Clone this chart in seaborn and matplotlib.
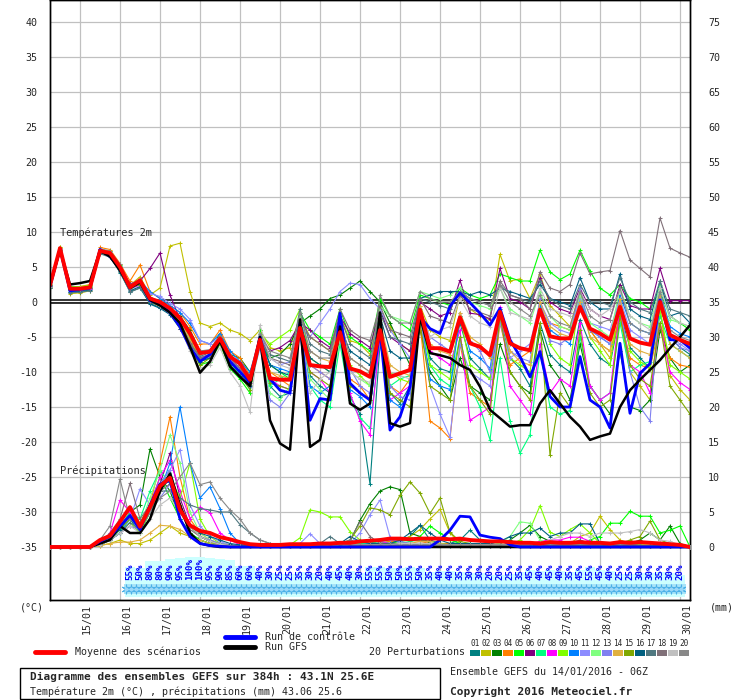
import matplotlib
matplotlib.use('Agg')
import matplotlib.pyplot as plt
import matplotlib.transforms as mtransforms
from matplotlib.lines import Line2D
from matplotlib.patches import Rectangle
import numpy as np
import pandas as pd
import seaborn as sns

sns.set_style('white')
plt.rcParams['font.family'] = ['DejaVu Sans Mono', 'DejaVu Sans']

# 6-hourly steps from 14/01 06Z to 30/01 06Z
steps = list(range(65))
day_steps = [3, 7, 11, 15, 19, 23, 27, 31, 35, 39, 43, 47, 51, 55, 59, 63]
day_labels = ['15/01', '16/01', '17/01', '18/01', '19/01', '20/01', '21/01', '22/01',
              '23/01', '24/01', '25/01', '26/01', '27/01', '28/01', '29/01', '30/01']

# probability of precipitation (%), steps 8..63
pct_steps = list(range(8, 64))
pct_values = [55, 50, 80, 80, 90, 95, 100, 100, 95, 90, 85, 60, 60, 40, 30, 25, 25, 35, 30, 20,
              40, 45, 40, 30, 55, 55, 50, 50, 55, 50, 35, 40, 40, 35, 30, 30, 20, 20, 25, 35,
              45, 40, 45, 40, 35, 45, 55, 45, 40, 25, 25, 30, 30, 35, 30, 20]

# temperature 2m (°C)
temp_mean = [2.4, 7.7, 1.9, 1.9, 2.1, 7.3, 7.0, 5.0, 2.1,
             3.1, 0.5, 0.0, -0.9, -2.3, -4.5, -7.3, -7.1, -5.2, -7.8, -8.8, -11.1,
             -5.4, -10.9, -11.1, -11.1, -3.7, -9.0, -9.2, -9.3, -4.3, -9.5, -9.9, -10.7, -4.0, -10.7, -10.2, -9.7, -1.1, -6.6, -6.6, -7.1,
             -2.2, -5.9, -6.4, -7.6, -1.4, -5.9, -6.6, -6.9, -1.1, -4.9, -5.2, -5.2, -0.7, -3.8, -4.5, -5.4, -0.7, -5.2, -5.8, -6.1, 0.0, -4.7, -5.4, -6.0]
temp_control = [2.2, 7.6, 1.6, 1.8, 2.0, 7.5, 6.5, 4.8, 2.0,
                3.0, 0.2, -0.3, -1.5, -3.5, -6.5, -8.5, -7.5, -5.5, -8.5, -10.0, -11.5,
                -5.0, -11.0, -12.6, -13.0, -3.0, -16.9, -13.8, -14.0, -1.6, -11.6, -13.0, -14.0, -4.0, -18.3, -16.4, -12.1, -2.1, -3.8, -4.5, -0.6,
                1.3, -0.1, -1.6, -3.3, -0.9, -5.4, -7.8, -10.7, -7.1, -13.5, -15.0, -15.0, -7.8, -14.0, -15.0, -18.0, -5.9, -15.9, -10.2, -8.8, 0.3, -5.4, -5.4, -6.6]
temp_gfs = [2.4, 7.5, 2.5, 2.7, 3.0, 7.3, 6.5, 4.5, 2.0,
            2.8, 0.3, -0.5, -1.5, -3.0, -6.4, -10.1, -8.5, -5.5, -9.2, -10.7, -12.0,
            -5.0, -16.9, -20.2, -21.1, -2.5, -20.7, -19.7, -12.6, -3.5, -14.5, -15.4, -14.5, -1.5, -17.3, -17.8, -17.3, -2.1, -7.3, -7.6, -8.0,
            -9.0, -9.7, -12.1, -15.4, -16.6, -17.8, -17.6, -17.6, -14.5, -12.6, -14.5, -16.4, -17.8, -19.7, -19.2, -18.8, -15.0, -12.6, -11.1, -9.7, -8.3, -6.6, -5.0, -3.3]

temp_m01 = [2.2, 7.4, 1.5, 1.6, 1.8, 7.2, 6.6, 4.2, 1.5,
            2.0, -0.2, -0.8, -1.5, -3.0, -5.5, -8.0, -7.5, -5.0, -8.5, -10.0, -12.0,
            -5.5, -12.0, -13.5, -13.0, -3.5, -10.5, -12.0, -13.0, -5.0, -13.5, -16.0, -26.0, -6.0, -13.0, -14.5, -12.0, -1.5, -8.0, -9.5, -10.0,
            -3.0, -8.0, -9.5, -11.0, -2.0, -8.0, -9.5, -12.0, -3.0, -7.5, -9.0, -10.0, -2.5, -6.0, -8.0, -9.0, -1.5, -6.5, -8.0, -9.5, -0.5, -5.0, -6.5, -7.5]
temp_m02 = [2.5, 7.6, 1.2, 1.3, 1.6, 7.0, 6.8, 5.0, 2.4,
            3.6, 1.0, 2.0, 8.0, 8.4, 1.5, -3.0, -3.5, -3.0, -4.0, -4.5, -5.5,
            -4.0, -6.5, -7.0, -6.5, -2.0, -5.0, -6.0, -7.0, -2.0, -5.5, -6.0, -7.5, -1.5, -3.5, -6.0, -7.0, -0.5, -4.0, -5.0, -5.5,
            1.0, -1.0, -2.0, -2.5, 6.8, 3.0, 3.3, 0.5, 4.0, -0.5, -2.0, -3.5, 1.5, -4.0, -6.0, -8.0, -2.0, -10.0, -12.0, -14.0, -1.0, -10.5, -12.5, -14.0]
temp_m03 = [2.0, 7.2, 1.8, 2.0, 2.2, 7.5, 7.2, 5.2, 2.0,
            2.5, 0.0, -0.5, -1.0, -2.0, -4.0, -7.0, -7.0, -4.5, -7.5, -8.0, -10.0,
            -6.0, -8.0, -7.5, -6.0, -3.0, -2.0, -1.0, 0.5, 1.0, 2.0, 3.0, 1.5, 0.0, -3.0, -6.0, -9.0, -4.0, -10.0, -12.0, -14.0,
            -8.0, -12.0, -13.0, -14.0, -6.0, -10.0, -12.0, -13.0, -4.0, -9.0, -11.0, -14.0, -6.0, -12.0, -14.0, -16.0, -7.0, -15.0, -15.5, -14.0, -4.0, -8.0, -10.0, -9.0]
temp_m04 = [2.6, 7.8, 2.0, 2.2, 2.5, 7.8, 7.5, 5.5, 3.0,
            5.3, 1.5, 0.5, -0.5, -1.5, -3.5, -6.0, -6.0, -4.0, -7.0, -8.0, -10.5,
            -5.0, -10.0, -11.0, -12.0, -4.0, -9.0, -10.0, -11.0, -4.5, -11.0, -12.0, -14.0, -3.0, -12.0, -13.0, -11.0, -3.0, -17.0, -18.0, -19.5,
            -6.0, -13.0, -14.0, -15.0, -3.0, -9.0, -8.0, -7.0, -1.5, -3.0, -3.5, -4.0, 0.0, -4.0, -6.0, -7.0, -2.0, -8.0, -9.0, -9.5, -3.0, -8.0, -9.0, -9.3]
temp_m05 = [2.3, 7.5, 2.2, 2.1, 2.3, 7.4, 7.3, 5.3, 2.0,
            2.8, 0.5, -0.3, -1.2, -3.0, -6.0, -9.0, -8.5, -6.0, -9.5, -11.0, -13.0,
            -4.0, -9.0, -10.0, -11.0, -1.5, -4.0, -5.0, -6.0, -1.0, -5.0, -6.0, -7.0, 0.5, -2.0, -3.0, -4.0, 1.0, 0.5, 0.0, -0.5,
            2.0, 1.0, 0.5, 1.0, 4.0, 3.5, 3.0, 3.0, 7.4, 4.3, 3.2, 4.0, 7.4, 4.4, 2.0, 1.0, 2.5, 0.5, 0.0, -1.0, 1.5, -2.0, -3.0, -4.0]
temp_m06 = [2.4, 7.7, 1.9, 2.0, 2.2, 7.6, 7.0, 5.0, 2.6,
            3.0, 4.8, 7.0, 1.0, -2.5, -5.0, -7.5, -7.0, -5.0, -8.0, -9.0, -11.0,
            -5.0, -7.0, -6.5, -5.5, -3.0, -4.0, -5.5, -6.5, -2.0, -4.5, -5.5, -6.5, -1.0, -5.0, -6.0, -7.0, 0.0, -1.0, -2.0, -1.5,
            3.1, -1.6, -1.8, -2.4, 4.8, 0.5, 0.0, -1.0, 3.5, 0.0, -1.0, -1.5, 2.0, -1.0, -2.0, -2.5, 2.5, -0.5, -1.0, -1.0, 4.8, 0.2, 0.2, 0.2]
temp_m07 = [2.2, 7.5, 1.7, 1.8, 2.0, 7.2, 6.9, 4.8, 1.8,
            2.6, 0.2, -0.4, -1.4, -3.5, -6.5, -8.5, -8.0, -6.0, -8.5, -10.5, -12.5,
            -6.0, -12.0, -11.0, -10.0, -4.0, -12.0, -14.0, -15.0, -6.0, -14.0, -16.5, -18.0, -5.5, -12.0, -11.0, -10.5, -2.0, -9.0, -11.0, -12.0,
            -5.0, -12.0, -15.0, -19.7, -8.0, -17.0, -21.6, -19.0, -7.0, -15.0, -16.0, -15.5, -5.0, -12.0, -14.0, -13.0, -3.0, -10.0, -9.0, -8.5, -2.0, -6.0, -7.0, -8.0]
temp_m08 = [2.1, 7.6, 1.8, 1.7, 1.9, 7.3, 7.0, 4.9, 1.9,
            2.4, 0.1, -0.6, -1.6, -3.8, -6.6, -8.0, -7.5, -5.5, -8.0, -9.5, -11.5,
            -6.0, -11.0, -12.0, -12.5, -4.0, -10.0, -11.0, -13.0, -5.0, -13.0, -17.0, -19.0, -5.0, -14.0, -13.0, -12.0, -2.0, -7.0, -8.0, -9.0,
            -4.0, -16.9, -16.0, -15.0, -0.7, -12.0, -14.0, -16.0, -6.0, -13.0, -11.0, -12.0, -3.0, -12.0, -14.0, -13.0, -1.0, -9.0, -10.0, -13.0, -3.0, -10.0, -11.5, -12.5]
temp_m09 = [2.5, 7.8, 2.1, 2.2, 2.4, 7.5, 7.1, 5.1, 2.2,
            3.2, 0.6, 0.0, -0.8, -2.5, -5.0, -8.5, -8.0, -5.5, -8.5, -9.5, -12.0,
            -4.5, -6.0, -5.0, -4.0, -1.0, -8.0, -9.0, -10.0, -3.0, -9.0, -10.5, -12.0, -3.0, -10.0, -11.0, -11.5, -1.0, -9.0, -10.0, -11.0,
            -2.0, -9.0, -10.0, -11.0, -1.0, -8.0, -9.0, -10.0, 0.0, -6.0, -8.0, -9.0, 1.0, -5.0, -7.0, -9.0, 1.0, -7.0, -8.5, -9.5, -1.0, -9.0, -10.0, -11.0]
temp_m10 = [2.3, 7.6, 2.0, 1.9, 2.1, 7.3, 7.0, 5.0, 2.1,
            3.0, 1.5, 0.5, -0.5, -1.5, -3.0, -5.5, -6.0, -4.5, -7.0, -8.5, -10.0,
            -5.0, -9.0, -9.5, -10.0, -3.0, -12.0, -13.0, -12.0, -4.0, -12.5, -13.5, -15.0, -4.0, -14.0, -15.0, -13.0, -1.5, -11.0, -12.0, -12.5,
            -2.0, -7.0, -8.0, -9.5, -1.0, -6.0, -6.5, -7.0, -0.5, -4.0, -5.0, -6.0, 0.5, -4.0, -5.0, -6.0, 1.0, -3.0, -4.0, -4.5, 1.5, -3.5, -4.5, -5.0]
temp_m11 = [2.4, 7.4, 1.6, 1.7, 2.0, 7.0, 6.8, 4.6, 1.8,
            2.6, 1.2, 0.8, -0.2, -1.0, -2.5, -5.5, -6.0, -5.0, -8.0, -9.0, -11.5,
            -4.5, -8.0, -9.0, -8.5, -3.5, -5.0, -3.0, -1.0, 1.5, 2.7, 2.5, 0.5, -1.0, -4.0, -6.0, -8.0, -2.0, -12.0, -16.0, -19.3,
            -6.0, -10.0, -11.0, -12.0, -3.0, -8.0, -7.0, -6.0, 0.0, -3.0, -4.0, -4.5, 0.5, -3.0, -3.5, -4.0, 0.5, -4.0, -5.0, -6.0, 1.0, -5.0, -6.0, -7.0]
temp_m12 = [2.6, 7.5, 2.1, 2.0, 2.1, 7.2, 6.9, 4.9, 2.0,
            2.9, 0.3, -0.2, -1.0, -2.8, -5.8, -8.2, -7.6, -5.6, -8.8, -10.0, -12.0,
            -6.0, -13.0, -14.0, -12.0, -2.0, -11.0, -12.5, -14.0, -5.0, -10.0, -11.0, -12.0, -0.5, -2.0, -2.5, -3.0, 1.5, 1.0, 0.5, 1.0,
            2.0, 0.0, -0.5, -1.0, 2.0, -1.0, -2.0, -3.0, 1.5, -2.0, -3.5, -4.0, 1.0, -3.0, -4.0, -5.0, 2.0, -2.0, -3.0, -3.5, 2.5, -2.5, -3.0, -3.5]
temp_m13 = [2.3, 7.6, 1.8, 1.9, 2.0, 7.4, 7.1, 5.2, 2.2,
            2.7, 0.4, -0.2, -1.1, -3.2, -6.0, -8.0, -7.8, -5.3, -8.2, -9.5, -12.2,
            -6.5, -14.0, -15.0, -13.0, -4.5, -9.0, -10.0, -11.0, -3.0, -9.5, -12.0, -13.0, -3.5, -12.0, -13.5, -14.0, -1.0, -5.0, -6.0, -7.0,
            -1.5, -5.5, -7.0, -10.0, -2.0, -7.0, -8.0, -8.5, 0.5, -5.5, -6.0, -5.0, 2.0, -4.0, -5.0, -6.0, 0.0, -10.0, -15.0, -17.0, 1.0, -5.0, -6.5, -7.0]
temp_m14 = [2.4, 7.7, 2.0, 2.1, 2.2, 7.2, 6.8, 5.0, 2.1,
            2.8, 0.4, 0.0, -1.0, -2.6, -5.5, -7.5, -7.0, -5.0, -8.0, -9.0, -11.0,
            -5.5, -10.0, -10.5, -11.0, -3.5, -7.0, -8.0, -8.5, -2.5, -8.0, -9.0, -10.0, -2.5, -9.0, -10.0, -10.5, -0.5, -6.0, -7.0, -7.5,
            -1.5, -5.0, -6.0, -8.0, -1.0, -7.0, -8.5, -9.0, 0.0, -3.5, -4.5, -5.0, 0.0, -5.0, -6.0, -7.0, 0.5, -6.0, -7.0, -7.5, 1.0, -6.0, -7.0, -8.0]
temp_m15 = [2.2, 7.5, 1.9, 1.8, 2.0, 7.3, 7.0, 5.0, 2.0,
            2.5, 0.0, -0.6, -1.5, -3.5, -6.5, -9.0, -8.0, -6.0, -9.0, -10.5, -12.5,
            -6.0, -11.5, -12.0, -12.5, -4.0, -10.0, -11.0, -12.0, -4.5, -12.0, -13.0, -14.0, -3.0, -13.0, -14.0, -15.0, -3.0, -12.0, -13.0, -14.0,
            -5.0, -12.0, -14.0, -16.0, -2.0, -10.0, -12.0, -14.0, -3.0, -21.9, -13.0, -15.0, -4.0, -13.0, -15.0, -14.0, -2.0, -9.0, -11.0, -12.0, -3.0, -12.0, -14.0, -16.0]
temp_m16 = [2.5, 7.3, 1.4, 1.5, 1.7, 7.0, 6.6, 4.5, 1.6,
            2.2, -0.3, -0.9, -1.8, -3.8, -6.5, -8.5, -8.0, -5.5, -9.0, -10.5, -12.0,
            -5.0, -9.0, -10.0, -10.5, -2.5, -8.0, -9.0, -10.0, -3.5, -7.0, -8.0, -9.0, -2.0, -7.0, -8.0, -8.0, 0.5, 1.0, 1.5, 1.5,
            1.5, 1.0, 1.5, 1.0, 2.0, 1.5, 1.0, 0.5, 2.5, 0.5, 0.0, -0.5, 3.5, 0.0, -1.0, -1.0, 4.0, -1.0, -2.0, -2.5, 3.0, -2.0, -1.5, -3.0]
temp_m17 = [2.0, 7.2, 1.3, 1.4, 1.6, 6.9, 6.4, 4.3, 1.4,
            2.0, 0.0, -0.5, -1.3, -3.3, -6.0, -7.8, -7.2, -5.2, -8.6, -10.0, -11.8,
            -5.5, -7.5, -8.0, -8.5, -1.0, -6.0, -7.0, -7.5, -2.0, -6.0, -7.0, -8.0, -1.5, -5.0, -5.5, -6.0, 0.5, 0.0, -0.5, -1.0,
            1.5, 0.5, 0.0, -0.5, 2.5, 1.0, 0.5, 0.0, 3.0, 0.5, -0.5, -1.0, 2.5, 0.0, 0.0, -0.5, 3.5, 0.0, -1.0, -1.5, 3.0, -1.0, -1.5, -2.0]
temp_m18 = [2.3, 7.5, 1.7, 1.8, 2.0, 7.3, 6.9, 4.8, 1.9,
            2.6, 0.2, -0.5, -1.3, -3.0, -5.8, -8.0, -7.5, -5.0, -8.0, -9.5, -11.5,
            -5.0, -8.0, -8.5, -9.0, -2.5, -5.0, -6.0, -7.0, -1.0, -4.0, -5.0, -5.5, -0.5, -4.0, -4.5, -5.0, 0.5, -2.0, -2.5, -3.0,
            1.0, -1.0, -1.5, -2.0, 3.0, 1.0, 0.5, -1.0, 4.3, 2.0, 1.5, 2.5, 7.0, 4.0, 4.3, 4.5, 10.2, 6.0, 4.8, 3.6, 12.0, 7.7, 7.0, 6.4]
temp_m19 = [2.2, 7.6, 1.9, 2.0, 2.1, 7.4, 7.2, 5.1, 2.3,
            2.9, 0.3, -0.5, -1.5, -3.6, -7.0, -9.5, -9.0, -6.5, -10.0, -12.0, -15.7,
            -3.3, -8.0, -9.0, -9.5, -3.0, -13.0, -11.0, -10.0, -4.0, -10.0, -11.0, -11.5, -3.0, -10.0, -10.5, -11.0, -1.0, -5.0, -4.0, -3.5,
            0.5, -2.0, -3.0, -3.5, 2.0, -1.5, -2.0, -2.5, 2.0, -1.0, -1.5, -2.0, 1.5, -1.0, -2.0, -1.0, 1.5, -2.0, -3.0, -4.0, 2.0, -2.0, -3.0, -3.5]
temp_m20 = [2.4, 7.5, 1.8, 1.9, 2.1, 7.6, 7.3, 5.4, 2.4,
            3.3, 0.7, 0.1, -0.8, -2.2, -4.5, -7.0, -6.8, -4.8, -7.5, -9.0, -10.5,
            -4.5, -7.0, -7.5, -8.0, -1.5, -7.0, -8.0, -8.0, -2.0, -8.0, -9.0, -10.0, 1.0, -2.0, -3.0, -3.0, 1.5, 0.5, 0.0, 0.0,
            1.5, 0.5, 0.0, -0.5, 2.5, 0.0, -1.0, -2.0, 1.0, -2.0, -3.0, -3.5, 1.5, -2.0, -3.0, -2.5, 2.0, -3.0, -4.0, -4.5, 1.5, -4.0, -5.0, -5.5]

# precipitation (mm per 6h)
rain_mean = [0, 0, 0, 0, 0, 1.0, 1.6, 3.6, 5.7, 2.9, 5.7, 8.7, 9.9, 5.3, 3.1, 2.3, 2.0, 1.4, 1.1, 0.7, 0.4,
             0.3, 0.3, 0.3, 0.4, 0.4, 0.4, 0.5, 0.5, 0.6, 0.6, 0.8, 0.9, 1.0, 1.2, 1.2, 1.1, 1.2, 1.2, 1.2, 1.1, 1.2, 1.0,
             0.9, 0.8, 0.8, 0.7, 0.6, 0.6, 0.5, 0.7, 0.6, 0.6, 0.7, 0.6, 0.6, 0.5, 0.7, 0.6, 0.7, 0.6, 0.5, 0.4, 0.3, 0.0]
rain_control = [0, 0, 0, 0, 0, 0.8, 1.5, 3.0, 4.5, 2.5, 6.0, 9.0, 9.5, 4.0, 1.5, 0.5, 0.2, 0.1, 0, 0, 0,
                0, 0, 0, 0, 0, 0, 0, 0, 0, 0, 0, 0, 0, 0, 0, 0, 0, 0, 1.0, 2.4, 4.4, 4.3,
                1.7, 1.4, 1.2, 0.3, 0, 0, 0, 0, 0, 0, 0, 0, 0, 0, 0, 0, 0, 0, 0, 0, 0, 0]
rain_gfs = [0, 0, 0, 0, 0, 0.5, 1.0, 3.0, 2.0, 2.0, 4.0, 8.0, 10.5, 6.0, 2.0, 0.5, 0.2, 0, 0, 0, 0,
            0, 0, 0, 0, 0, 0, 0, 0, 0, 0, 0, 0, 0, 0, 0, 0, 0, 0, 0, 0, 0, 0,
            0, 0, 0, 0, 0, 0, 0, 0, 0, 0, 0, 0, 0, 0, 0, 0, 0, 0, 0, 0, 0, 0]

rain_m01 = [0, 0, 0, 0, 0, 0.5, 1.5, 3.0, 4.0, 2.0, 5.0, 9.0, 11.0, 6.0, 3.0, 1.5, 0.8, 0.5, 0.3, 0.2, 0.1,
            0.1, 0.2, 0.2, 0.3, 0.2, 0.2, 0.3, 0.3, 0.5, 0.5, 0.3, 0.5, 1.0, 0.8, 0.8, 1.5, 3.1, 1.0, 0.5, 0.5, 1.0, 2.4,
            1.0, 0.5, 0.3, 0.3, 0.2, 0.2, 0.2, 0.3, 0.2, 0.2, 0.2, 0.3, 0.3, 0.2, 0.2, 0.2, 0.3, 0.2, 0.2, 0.1, 0.1, 0.0]
rain_m02 = [0, 0, 0, 0, 0, 0.2, 0.5, 1.0, 0.5, 0.5, 1.0, 2.0, 3.0, 2.0, 1.5, 1.0, 0.5, 0.3, 0.2, 0.1, 0.1,
            0.1, 0.1, 0.1, 0.2, 0.2, 0.2, 0.3, 0.3, 0.3, 0.3, 0.5, 0.5, 0.5, 0.8, 1.0, 1.5, 2.5, 4.0, 5.4, 2.0, 0.5, 0.3,
            0.3, 0.2, 0.2, 0.2, 0.2, 0.2, 0.3, 0.3, 0.3, 0.5, 1.5, 2.0, 4.4, 2.5, 1.0, 0.5, 0.3, 0.3, 0.2, 0.2, 0.1, 0.0]
rain_m03 = [0, 0, 0, 0, 0, 0.5, 1.0, 2.5, 5.0, 6.0, 14.0, 10.0, 8.0, 4.0, 2.0, 1.0, 0.5, 0.3, 0.2, 0.1, 0.1,
            0.1, 0.1, 0.1, 0.2, 0.2, 0.2, 0.3, 0.3, 0.5, 0.8, 3.8, 6.2, 8.0, 8.6, 8.2, 2.0, 1.5, 0.5, 0.3, 0.2, 0.2, 0.2,
            0.2, 0.2, 0.5, 1.0, 2.0, 3.1, 1.5, 0.8, 0.5, 0.3, 0.3, 0.3, 0.5, 0.5, 0.5, 0.5, 1.0, 2.0, 1.0, 3.0, 0.5, 0.0]
rain_m04 = [0, 0, 0, 0, 0, 0.3, 1.0, 3.0, 4.0, 3.0, 6.0, 12.0, 18.6, 10.0, 4.0, 2.0, 1.0, 0.5, 0.3, 0.2, 0.1,
            0.1, 0.1, 0.2, 0.2, 0.3, 0.3, 0.3, 0.2, 0.2, 0.2, 0.3, 0.3, 0.5, 0.8, 1.0, 1.0, 0.8, 0.5, 0.5, 0.5, 0.3, 0.3,
            0.3, 0.2, 0.2, 0.2, 0.2, 0.2, 0.2, 0.2, 0.2, 0.2, 0.3, 0.3, 0.2, 0.2, 0.2, 0.2, 0.2, 0.2, 0.1, 0.1, 0.1, 0.0]
rain_m05 = [0, 0, 0, 0, 0, 0.5, 1.0, 2.0, 5.0, 3.0, 6.0, 10.0, 7.0, 4.0, 2.0, 1.0, 0.5, 0.3, 0.2, 0.1, 0.1,
            0.1, 0.1, 0.1, 0.1, 0.2, 0.2, 0.2, 0.2, 0.3, 0.3, 0.3, 0.3, 0.5, 0.5, 0.8, 1.0, 1.5, 3.0, 2.0, 1.0, 0.5, 0.5,
            0.3, 0.3, 0.2, 0.2, 0.3, 0.3, 0.5, 0.5, 0.5, 0.5, 0.5, 1.0, 1.5, 3.4, 3.4, 5.1, 4.4, 4.4, 2.0, 2.4, 3.0, 0.0]
rain_m06 = [0, 0, 0, 0, 0, 0.3, 1.0, 2.0, 3.0, 2.5, 5.0, 9.0, 13.4, 7.0, 3.0, 1.5, 0.8, 0.5, 0.2, 0.1, 0.1,
            0.1, 0.1, 0.1, 0.1, 0.2, 0.2, 0.2, 0.2, 0.2, 0.2, 0.3, 0.3, 0.3, 0.3, 0.3, 0.5, 0.5, 0.3, 0.3, 0.3, 0.3, 0.3,
            0.2, 0.2, 0.2, 0.2, 0.2, 0.2, 0.2, 0.2, 0.2, 0.2, 0.2, 0.2, 0.2, 0.2, 0.2, 0.2, 0.2, 0.2, 0.1, 0.1, 0.1, 0.0]
rain_m07 = [0, 0, 0, 0, 0, 0.5, 1.5, 3.0, 5.0, 4.0, 8.0, 11.0, 9.0, 5.0, 3.0, 1.5, 0.8, 0.4, 0.2, 0.1, 0.1,
            0.1, 0.1, 0.1, 0.1, 0.1, 0.2, 0.2, 0.2, 0.3, 0.3, 0.5, 0.5, 0.8, 0.5, 0.5, 0.8, 1.0, 0.8, 0.5, 0.3, 0.3, 0.3,
            0.2, 0.2, 0.3, 0.5, 0.8, 0.5, 0.5, 0.3, 0.3, 0.3, 0.2, 0.2, 0.2, 0.3, 0.5, 0.3, 0.2, 0.2, 0.1, 0.1, 0.1, 0.0]
rain_m08 = [0, 0, 0, 0, 0, 0.5, 2.0, 6.7, 5.0, 3.0, 6.0, 10.0, 12.4, 8.0, 4.0, 5.7, 4.9, 2.0, 1.0, 0.3, 0.1,
            0.1, 0.1, 0.1, 0.2, 0.2, 0.2, 0.3, 0.3, 0.3, 0.5, 0.8, 1.0, 0.8, 0.5, 0.5, 0.5, 0.5, 0.3, 0.3, 0.3, 0.3, 0.3,
            0.2, 0.2, 0.2, 0.2, 0.3, 0.5, 0.8, 1.0, 1.0, 1.4, 1.4, 0.8, 0.5, 0.3, 0.3, 0.2, 0.2, 0.2, 0.1, 0.1, 0.1, 0.0]
rain_m09 = [0, 0, 0, 0, 0, 0.3, 1.0, 2.0, 3.5, 2.0, 5.0, 8.0, 10.0, 7.0, 12.0, 4.0, 1.5, 0.5, 0.2, 0.1, 0.1,
            0.1, 0.1, 0.2, 0.3, 1.3, 5.3, 5.0, 4.3, 4.3, 2.2, 1.0, 0.5, 0.3, 0.3, 0.3, 0.3, 0.3, 0.3, 0.2, 0.2, 0.2, 0.2,
            0.2, 0.2, 0.2, 0.3, 1.0, 2.5, 5.9, 2.1, 1.5, 2.5, 3.3, 2.0, 0.5, 0.3, 0.3, 0.3, 0.2, 0.2, 0.1, 0.1, 0.1, 0.0]
rain_m10 = [0, 0, 0, 0, 0, 0.3, 1.0, 2.0, 4.0, 3.0, 6.0, 8.0, 12.0, 20.0, 12.0, 7.0, 8.6, 5.5, 2.0, 0.5, 0.2,
            0.1, 0.1, 0.1, 0.1, 0.2, 0.2, 0.2, 0.2, 0.3, 0.3, 0.3, 0.5, 0.5, 0.5, 0.3, 0.3, 0.3, 0.3, 0.3, 0.3, 0.5, 0.5,
            0.3, 0.3, 0.2, 0.2, 0.2, 0.2, 0.2, 0.2, 0.2, 0.2, 0.2, 0.2, 0.2, 0.2, 0.2, 0.2, 0.2, 0.2, 0.1, 0.1, 0.1, 0.0]
rain_m11 = [0, 0, 0, 0, 0, 0.5, 1.5, 3.0, 4.0, 8.3, 6.0, 9.0, 11.0, 13.9, 6.0, 3.0, 1.5, 0.8, 0.3, 0.2, 0.1,
            0.1, 0.1, 0.2, 0.3, 0.5, 1.9, 0.5, 0.3, 0.3, 0.5, 2.0, 4.6, 6.7, 1.4, 0.5, 0.3, 0.3, 0.3, 0.2, 0.2, 0.2, 0.2,
            0.2, 0.2, 0.2, 0.2, 0.2, 0.2, 0.3, 0.3, 0.3, 0.3, 0.3, 0.3, 0.2, 0.2, 0.2, 0.2, 0.2, 0.2, 0.1, 0.1, 0.1, 0.0]
rain_m12 = [0, 0, 0, 0, 0, 0.3, 1.0, 2.5, 4.0, 3.0, 7.0, 11.0, 16.0, 12.0, 5.0, 2.0, 1.0, 0.5, 0.3, 0.1, 0.1,
            0.1, 0.1, 0.1, 0.2, 0.2, 0.2, 0.2, 0.3, 0.3, 0.3, 0.3, 0.3, 0.5, 0.5, 0.5, 0.5, 0.5, 0.3, 0.3, 0.3, 0.3, 0.3,
            0.3, 0.3, 0.5, 1.5, 3.6, 3.4, 1.0, 0.5, 0.3, 0.3, 0.3, 0.3, 0.2, 0.2, 0.2, 0.2, 0.2, 0.2, 0.1, 0.1, 0.1, 0.0]
rain_m13 = [0, 0, 0, 0, 0, 0.5, 1.0, 2.0, 3.0, 2.5, 5.0, 7.0, 9.0, 6.0, 3.0, 1.5, 1.0, 0.5, 0.3, 0.1, 0.1,
            0.1, 0.1, 0.1, 0.2, 0.2, 0.3, 0.3, 0.3, 0.5, 0.8, 0.8, 1.0, 0.8, 1.0, 0.8, 0.5, 0.5, 0.5, 0.3, 0.3, 0.3, 0.3,
            0.3, 0.3, 0.3, 0.3, 0.3, 0.5, 0.5, 0.5, 0.3, 0.3, 0.3, 0.3, 0.3, 0.3, 0.3, 0.3, 0.2, 0.2, 0.1, 0.1, 0.1, 0.0]
rain_m14 = [0, 0, 0, 0, 0, 0.2, 0.5, 0.7, 0.7, 1.0, 2.0, 3.1, 3.0, 2.5, 1.5, 1.0, 0.5, 0.3, 0.2, 0.1, 0.1,
            0.1, 0.1, 0.1, 0.1, 0.1, 0.2, 0.2, 0.2, 0.2, 0.3, 0.3, 0.3, 0.5, 0.5, 0.5, 0.5, 0.8, 0.8, 0.5, 0.3, 0.3, 0.3,
            0.3, 0.3, 0.3, 0.3, 0.3, 0.3, 0.3, 0.3, 0.3, 0.3, 0.3, 0.3, 0.3, 0.3, 0.3, 0.3, 0.2, 0.2, 0.1, 0.1, 0.1, 0.0]
rain_m15 = [0, 0, 0, 0, 0, 0.5, 1.5, 2.5, 4.0, 3.5, 6.0, 9.0, 10.0, 6.0, 3.0, 1.5, 0.8, 0.4, 0.2, 0.1, 0.1,
            0.1, 0.1, 0.1, 0.2, 0.2, 0.2, 0.3, 0.3, 0.5, 1.0, 3.0, 5.6, 5.3, 4.6, 7.4, 9.3, 7.7, 4.8, 7.0, 2.1, 0.8, 0.5,
            0.3, 0.3, 0.3, 0.3, 0.3, 0.3, 0.3, 0.3, 0.3, 0.3, 0.3, 0.3, 0.3, 0.3, 0.5, 1.0, 1.5, 3.7, 1.0, 0.5, 0.3, 0.0]
rain_m16 = [0, 0, 0, 0, 0, 0.4, 1.2, 2.5, 4.5, 3.0, 5.5, 8.5, 9.5, 5.0, 3.0, 2.0, 1.5, 1.0, 0.5, 0.3, 0.2,
            0.2, 0.2, 0.2, 0.2, 0.2, 0.3, 0.3, 0.3, 0.5, 1.5, 0.8, 0.5, 0.5, 0.5, 1.0, 2.0, 3.1, 2.0, 1.0, 0.5, 0.5, 0.5,
            0.5, 0.5, 0.8, 1.5, 2.0, 2.0, 2.7, 1.5, 2.0, 2.0, 3.3, 3.3, 0.5, 0.3, 0.3, 0.3, 0.2, 0.2, 0.1, 0.1, 0.1, 0.0]
rain_m17 = [0, 0, 0, 0, 0, 0.3, 1.0, 2.0, 3.5, 2.5, 5.0, 8.0, 8.0, 7.0, 6.0, 5.5, 5.3, 5.0, 5.0, 3.2, 2.0,
            1.0, 0.5, 0.3, 0.3, 0.3, 0.3, 0.5, 1.5, 0.5, 0.3, 0.3, 0.3, 0.3, 0.5, 0.5, 0.5, 0.5, 0.5, 0.3, 0.3, 0.3, 0.3,
            0.3, 0.3, 0.3, 0.3, 0.3, 0.3, 0.3, 0.3, 0.3, 0.5, 1.0, 0.5, 0.3, 0.3, 0.3, 0.3, 0.2, 0.2, 0.1, 0.1, 0.1, 0.0]
rain_m18 = [0, 0, 0, 0, 0, 0.5, 2.0, 4.0, 9.1, 4.0, 6.0, 8.0, 9.0, 5.0, 2.5, 1.5, 0.8, 0.4, 0.2, 0.1, 0.1,
            0.1, 0.1, 0.1, 0.2, 0.2, 0.2, 0.3, 0.3, 0.5, 1.0, 3.6, 1.5, 0.5, 0.3, 0.3, 0.3, 0.3, 0.3, 0.3, 0.3, 0.3, 0.3,
            0.3, 0.2, 0.2, 0.2, 0.2, 0.2, 0.2, 0.3, 0.3, 0.3, 0.3, 0.3, 0.3, 0.3, 0.3, 0.3, 0.2, 0.2, 0.1, 0.1, 0.1, 0.0]
rain_m19 = [0, 0, 0, 0, 0, 0.3, 1.0, 2.0, 3.0, 2.0, 4.0, 6.0, 7.0, 5.0, 3.0, 1.5, 0.8, 0.4, 0.2, 0.1, 0.1,
            0.1, 0.1, 0.1, 0.1, 0.2, 0.2, 0.2, 0.2, 0.2, 0.3, 0.3, 0.3, 0.3, 0.3, 0.5, 0.5, 0.5, 0.5, 0.3, 0.3, 0.3, 0.3,
            0.3, 0.3, 0.3, 0.3, 0.3, 0.3, 0.5, 1.0, 1.5, 2.0, 2.0, 1.5, 2.0, 2.0, 2.0, 2.2, 2.5, 2.0, 1.0, 0.8, 0.3, 0.0]
rain_m20 = [0, 0, 0, 0, 0, 1.0, 3.0, 9.7, 4.0, 3.0, 5.0, 7.0, 8.0, 10.0, 12.0, 8.9, 9.3, 7.0, 5.3, 4.0, 2.0,
            1.0, 0.5, 0.3, 0.2, 0.2, 0.2, 0.2, 0.3, 0.3, 0.3, 0.3, 0.3, 0.3, 0.3, 0.3, 0.3, 0.3, 0.3, 0.3, 0.3, 0.3, 0.3,
            0.3, 0.3, 0.3, 0.3, 0.3, 0.3, 0.3, 0.3, 0.3, 0.3, 0.3, 0.3, 0.3, 0.3, 0.3, 0.3, 0.2, 0.2, 0.1, 0.1, 0.1, 0.0]

member_names = ['%02d' % i for i in range(1, 21)]
member_colors = ['#008080', '#c0c000', '#008000', '#ff8000', '#00ff00', '#800080', '#00ff80',
                 '#ff00ff', '#80ff00', '#0080ff', '#8c8cff', '#80ff80', '#8080f0', '#e0b040',
                 '#80a800', '#006080', '#507880', '#807078', '#c0c0c0', '#888888']
member_temps = [temp_m01, temp_m02, temp_m03, temp_m04, temp_m05, temp_m06, temp_m07, temp_m08, temp_m09, temp_m10,
                temp_m11, temp_m12, temp_m13, temp_m14, temp_m15, temp_m16, temp_m17, temp_m18, temp_m19, temp_m20]
member_rains = [rain_m01, rain_m02, rain_m03, rain_m04, rain_m05, rain_m06, rain_m07, rain_m08, rain_m09, rain_m10,
                rain_m11, rain_m12, rain_m13, rain_m14, rain_m15, rain_m16, rain_m17, rain_m18, rain_m19, rain_m20]

rows = []
for name, tv, rv in zip(member_names, member_temps, member_rains):
    if len(tv) != 65 or len(rv) != 65:
        raise ValueError('member %s: %d temps, %d rains' % (name, len(tv), len(rv)))
    for s, t, r in zip(steps, tv, rv):
        rows.append((name, s, t, r))
members = pd.DataFrame(rows, columns=['member', 'step', 'temp', 'rain'])
runs = pd.DataFrame({'step': steps, 'temp_mean': temp_mean, 'temp_control': temp_control,
                     'temp_gfs': temp_gfs, 'rain_mean': rain_mean, 'rain_control': rain_control,
                     'rain_gfs': rain_gfs})
palette = dict(zip(member_names, member_colors))

W, H = 740, 700
fig = plt.figure(figsize=(W / 100, H / 100), dpi=100)
ax = fig.add_axes([50 / W, 100 / H, 640 / W, 600 / H])
t_lim = ((302 - 600) / 7, 302 / 7)
ax.set_xlim(0, 64)
ax.set_ylim(*t_lim)

# grid
for t in range(-35, 45, 5):
    ax.axhline(t, color='#c0c0c0', lw=0.9, zorder=0)
for d in day_steps:
    ax.axvline(d, color='#c0c0c0', lw=0.9, zorder=0)
ax.axhline(0.35, color='black', lw=1.1, zorder=1)
ax.axhline(-0.1, color='black', lw=1.1, zorder=1)

# probability strip at the bottom
pct_base = -42.1
ax.bar(pct_steps, [-39.7 + 0.033 * p - pct_base for p in pct_values], bottom=pct_base,
       width=1.0, color='#ccffff', linewidth=0, zorder=1)
ax.fill_between([7.4, 63.6], -41.7, -40.3, color='#a8e4f8', lw=0, zorder=1)
flakes = np.arange(7.6, 63.6, 0.5)
ax.scatter(flakes, np.full(len(flakes), -41.0), marker=(6, 2, 0), s=40, color='#4ab0e8',
           linewidths=0.8, zorder=2)
ax.scatter(flakes, np.full(len(flakes), -41.0), marker='h', s=10, color='#9ad8f8',
           linewidths=0, zorder=2)
for s, p in zip(pct_steps, pct_values):
    ax.text(s, -39.7, '%d%%' % p, rotation=90, ha='center', va='bottom', color='#0000ff',
            fontsize=6.6, fontweight='bold', zorder=3)

# temperatures
n0 = len(ax.lines)
sns.lineplot(data=members, x='step', y='temp', hue='member', palette=palette, estimator=None,
             legend=False, lw=0.8, marker='+', markersize=3, ax=ax, zorder=3)
for ln in ax.lines[n0:]:
    ln.set_markeredgecolor(ln.get_color())
sns.lineplot(data=runs, x='step', y='temp_control', color='#0000ff', lw=2.0, ax=ax, zorder=4)
sns.lineplot(data=runs, x='step', y='temp_gfs', color='black', lw=1.8, ax=ax, zorder=4)
sns.lineplot(data=runs, x='step', y='temp_mean', color='#ff0000', lw=2.8, ax=ax, zorder=5)

# precipitation on the right-hand scale
ax2 = ax.twinx()
ax2.set_ylim(t_lim[0] + 35, t_lim[1] + 35)
n0 = len(ax2.lines)
sns.lineplot(data=members, x='step', y='rain', hue='member', palette=palette, estimator=None,
             legend=False, lw=0.8, marker='+', markersize=3, ax=ax2, zorder=3)
for ln in ax2.lines[n0:]:
    ln.set_markeredgecolor(ln.get_color())
sns.lineplot(data=runs, x='step', y='rain_gfs', color='black', lw=1.8, ax=ax2, zorder=4)
sns.lineplot(data=runs, x='step', y='rain_control', color='#0000ff', lw=2.0, ax=ax2, zorder=4)
sns.lineplot(data=runs, x='step', y='rain_mean', color='#ff0000', lw=2.8, ax=ax2, zorder=5)
ax2.set_xlim(0, 64)

# axes, ticks
fs = 7.2
ax.set_yticks(range(-35, 45, 5))
ax.set_yticklabels([str(t) for t in range(-35, 45, 5)])
ax2.set_yticks(range(0, 80, 5))
ax2.set_yticklabels([str(p) for p in range(0, 80, 5)])
ax.set_xticks(day_steps)
ax.set_xticklabels(day_labels, rotation=90)
ax.tick_params(axis='y', length=0, pad=9, labelsize=fs)
ax2.tick_params(axis='y', length=0, pad=13, labelsize=fs)
ax.tick_params(axis='x', length=0, pad=3, labelsize=fs)
shift = mtransforms.ScaledTranslation(7 / 100, 0, fig.dpi_scale_trans)
for lbl in ax.get_xticklabels():
    lbl.set_transform(lbl.get_transform() + shift)
for a in (ax, ax2):
    a.set_xlabel('')
    a.set_ylabel('')
    for sp in a.spines.values():
        sp.set_color('black')
        sp.set_linewidth(1.0)


def px(x, y):
    return x / W, 1 - y / H


fig.text(*px(60, 233), 'Températures 2m', fontsize=7.4, va='center', ha='left')
fig.text(*px(60, 471), 'Précipitations', fontsize=7.4, va='center', ha='left')
fig.text(*px(20, 607), '(°C)', fontsize=fs, va='center', ha='left')
fig.text(*px(710, 607), '(mm)', fontsize=fs, va='center', ha='left')

# legend
fig.add_artist(Line2D([35 / W, 65 / W], [1 - 652 / H] * 2, color='#ff0000', lw=3.5))
fig.text(*px(75, 652), 'Moyenne des scénarios', fontsize=fs, va='center')
fig.add_artist(Line2D([225 / W, 255 / W], [1 - 637 / H] * 2, color='#0000ff', lw=3.5))
fig.text(*px(265, 637), 'Run de contrôle', fontsize=fs, va='center')
fig.add_artist(Line2D([225 / W, 255 / W], [1 - 647 / H] * 2, color='black', lw=3.5))
fig.text(*px(265, 647), 'Run GFS', fontsize=fs, va='center')
fig.text(*px(369, 652), '20 Perturbations', fontsize=fs, va='center')
for i, (name, col) in enumerate(zip(member_names, member_colors)):
    x0 = 470 + 11 * i
    fig.add_artist(Rectangle((x0 / W, 1 - 656 / H), 10 / W, 6 / H, color=col, lw=0))
    fig.text((x0 + 5) / W, 1 - 644 / H, name, fontsize=5.6, ha='center', va='center')

# caption box
fig.add_artist(Rectangle((20 / W, 1 - 699 / H), 420 / W, 31 / H, fill=False,
                         edgecolor='black', lw=1.0))
fig.text(*px(30, 677), 'Diagramme des ensembles GEFS sur 384h : 43.1N 25.6E', fontsize=8.0,
         fontweight='bold', va='center')
fig.text(*px(30, 692), 'Température 2m (°C) , précipitations (mm) 43.06 25.6', fontsize=fs,
         va='center')
fig.text(*px(450, 672), 'Ensemble GEFS du 14/01/2016 - 06Z', fontsize=fs, va='center')
fig.text(*px(450, 692), 'Copyright 2016 Meteociel.fr', fontsize=8.0, fontweight='bold',
         va='center')

fig.savefig('out.png', dpi=100)
